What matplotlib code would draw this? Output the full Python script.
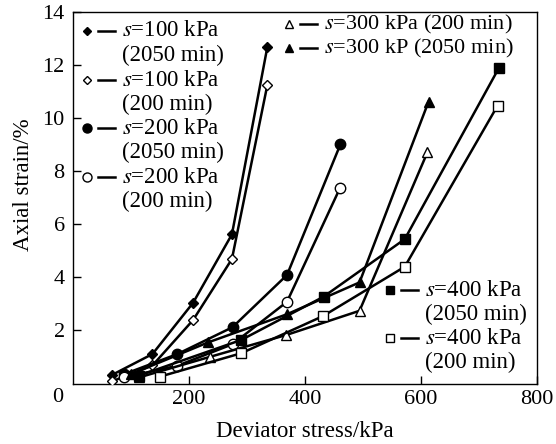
import matplotlib.pyplot as plt

plt.rcParams["font.family"] = ["Liberation Serif", "DejaVu Serif"]
plt.rcParams["mathtext.fontset"] = "stix"

# deviator stress (kPa) and axial strain (%) for each suction / duration
q_100_long = [67, 137, 207, 274, 335]
e_100_long = [0.32, 1.11, 3.04, 5.62, 12.67]
q_100_short = [67, 137, 207, 274, 335]
e_100_short = [0.08, 0.68, 2.39, 4.69, 11.24]

q_200_long = [88, 180, 275, 369, 461]
e_200_long = [0.35, 1.11, 2.12, 4.09, 9.01]
q_200_short = [88, 180, 275, 369, 460]
e_200_short = [0.23, 0.67, 1.48, 3.08, 7.35]

q_300_short = [114, 237, 368, 494, 611]
e_300_short = [0.23, 1.01, 1.83, 2.74, 8.71]
q_300_long = [100, 233, 369, 494, 613]
e_300_long = [0.35, 1.55, 2.61, 3.81, 10.62]

q_400_long = [114, 290, 432, 572, 734]
e_400_long = [0.3, 1.64, 3.27, 5.44, 11.88]
q_400_short = [150, 290, 431, 572, 732]
e_400_short = [0.26, 1.14, 2.54, 4.4, 10.47]

series = [
    (q_100_long, e_100_long, "D", "k", 5),
    (q_100_short, e_100_short, "D", "w", 5),
    (q_200_long, e_200_long, "o", "k", 7.5),
    (q_200_short, e_200_short, "o", "w", 7.5),
    (q_300_short, e_300_short, "^", "w", 6.5),
    (q_300_long, e_300_long, "^", "k", 6.5),
    (q_400_long, e_400_long, "s", "k", 7),
    (q_400_short, e_400_short, "s", "w", 7),
]

W, H = 556, 444
fig = plt.figure(figsize=(W / 100, H / 100), dpi=100)
ax = fig.add_axes([73 / W, 1 - 383.5 / H, 464 / W, 371.5 / H])

for q, e, m, fc, ms in series:
    ax.plot(q, e, color="k", lw=1.8, marker=m, mfc=fc, mec="k",
            mew=1.0, ms=ms, zorder=3)

ax.set_xlim(0, 800)
ax.set_ylim(0, 14)
ax.set_xticks([200, 400, 600, 800])
ax.set_yticks([2, 4, 6, 8, 10, 12, 14])
ax.tick_params(direction="in", length=6, width=1, labelsize=16, pad=6)
ax.tick_params(axis="x", pad=5)
for sp in ax.spines.values():
    sp.set_linewidth(1)

ax.set_xlabel("Deviator stress/kPa", fontsize=16.5)
ax.set_ylabel("Axial strain/%", fontsize=16.5)
ax.xaxis.set_label_coords(0.5, -0.1)
ax.yaxis.set_label_coords(-0.085, 0.534)
fig.text(58 / W, 1 - 398 / H, "0", fontsize=16, ha="center", va="center")


def px(x, y):
    return x / W, 1 - y / H


def key(x, y, marker, fc, ms, lines, size=16.5):
    # marker, short dash and label text placed in pixel positions
    mx, my = px(x, y)
    ax.plot([mx], [my], marker=marker, mfc=fc, mec="k", mew=1.0, ms=ms,
            color="k", transform=fig.transFigure, clip_on=False)
    x0, _ = px(x + 11, y)
    x1, _ = px(x + 28, y)
    ax.plot([x0, x1], [my, my], color="k", lw=1.8,
            transform=fig.transFigure, clip_on=False)
    for i, t in enumerate(lines):
        tx, ty = px(x + 35, y + 24.5 * i)
        fig.text(tx, ty, t, fontsize=size, ha="left", va="center")


key(87, 31, "D", "k", 4.5, [r"$s$=100 kPa", "(2050 min)"])
key(87, 80, "D", "w", 4.5, [r"$s$=100 kPa", "(200 min)"])
key(87, 128, "o", "k", 6.5, [r"$s$=200 kPa", "(2050 min)"])
key(87, 177, "o", "w", 6.5, [r"$s$=200 kPa", "(200 min)"])
key(289, 24, "^", "w", 5.5, [r"$s$=300 kPa (200 min)"], 16)
key(289, 48, "^", "k", 5.5, [r"$s$=300 kP (2050 min)"], 16)
key(390, 290, "s", "k", 6, [r"$s$=400 kPa", "(2050 min)"])
key(390, 338, "s", "w", 6, [r"$s$=400 kPa", "(200 min)"])

fig.savefig("out.png", dpi=100)
